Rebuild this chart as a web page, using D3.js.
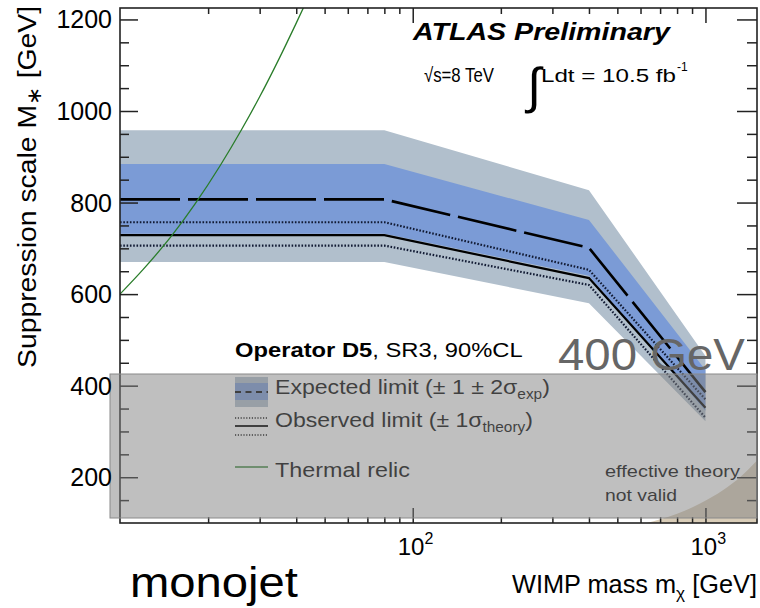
<!DOCTYPE html>
<html><head><meta charset="utf-8">
<script src="https://cdn.jsdelivr.net/npm/d3@7"></script>
<style>body{margin:0;background:#fff}svg{display:block}text{font-family:"Liberation Sans",Arial,Helvetica,sans-serif}</style>
</head><body>
<svg id="c" width="760" height="608"></svg>
<script>
// ---- data ----
const massPts   = [10, 80, 400, 1000];
const expected  = [807, 807, 701, 386];
const exp1Up    = [884, 884, 762, 434];
const exp1Dn    = [732, 732, 640, 345];
const exp2Up    = [958, 958, 827, 465];
const exp2Dn    = [670, 670, 580, 322];
const observed  = [729, 729, 635, 352];
const obsUp     = [757, 757, 653, 370];
const obsDn     = [706, 706, 620, 330];
const relicMass = [10, 12, 15, 18, 22, 26, 30, 35, 40, 45];
const relicM    = [600, 654, 727, 796, 881, 959, 1031, 1115, 1192, 1262];
const effMass   = [631, 700, 800, 962, 1150, 1318, 1503];
const effM      = [100, 108, 120, 143, 172, 201, 237];
const yMajor = [200, 400, 600, 800, 1000, 1200];
const yMinor = d3.range(150, 1225, 50).filter(v => v % 200 !== 0);
const xMajor = [100, 1000];
const xMinor = [20,30,40,50,60,70,80,90,200,300,400,500,600,700,800,900];
const xTickLabels = [{v:100, base:"10", sup:"2"}, {v:1000, base:"10", sup:"3"}];

const svg = d3.select("#c");
const L = 120, R = 757, T = 8, B = 523;
const x = d3.scaleLog().domain([10, 1500]).range([L, R]);
const y = d3.scaleLinear().domain([100, 1225]).range([B, T]);

svg.append("defs").append("clipPath").attr("id","clip")
  .append("rect").attr("x",L).attr("y",T).attr("width",R-L).attr("height",B-T);
const plot = svg.append("g").attr("clip-path","url(#clip)");

// effective theory region
const effData = effMass.map((m,i)=>({m, v:effM[i]}));
plot.append("path").datum(effData)
  .attr("d", d3.area().x(d=>x(d.m)).y0(y(100)).y1(d=>y(d.v)).curve(d3.curveMonotoneX))
  .attr("fill","#d9cdb8");

const pts = a => massPts.map((m,i)=>({m, v:a[i]}));
const band = (lo, hi, col) => plot.append("path")
  .datum(massPts.map((m,i)=>({m, lo:lo[i], hi:hi[i]})))
  .attr("d", d3.area().x(d=>x(d.m)).y0(d=>y(d.lo)).y1(d=>y(d.hi)))
  .attr("fill", col);
band(exp2Dn, exp2Up, "#b1bfcc");
band(exp1Dn, exp1Up, "#7b9bd6");

const line = d3.line().x(d=>x(d.m)).y(d=>y(d.v));
plot.append("path").datum(pts(obsUp)).attr("d",line).attr("fill","none")
  .attr("stroke","#111a33").attr("stroke-width",2.2).attr("stroke-dasharray","1.6,1.7");
plot.append("path").datum(pts(obsDn)).attr("d",line).attr("fill","none")
  .attr("stroke","#111a33").attr("stroke-width",2.2).attr("stroke-dasharray","1.6,1.7");
plot.append("path").datum(pts(observed)).attr("d",line).attr("fill","none")
  .attr("stroke","#000").attr("stroke-width",2.2);
plot.append("path").datum(pts(expected)).attr("d",line).attr("fill","none")
  .attr("stroke","#000").attr("stroke-width",2.6).attr("stroke-dasharray","60,8");

// thermal relic
plot.append("path").datum(relicMass.map((m,i)=>({m, v:relicM[i]})))
  .attr("d", d3.line().x(d=>x(d.m)).y(d=>y(d.v)).curve(d3.curveMonotoneX))
  .attr("fill","none").attr("stroke","#2a7d2a").attr("stroke-width",1.3);

// axes ticks
const axG = svg.append("g").attr("stroke-width",1.5);
function ax(gen, tr){ const g = axG.append("g").attr("transform",tr).call(gen); g.select(".domain").remove(); g.selectAll("line").attr("stroke","#222").attr("stroke-width",1.5); return g; }
ax(d3.axisLeft(y).tickValues(yMajor).tickSize(-18).tickFormat(""), `translate(${L},0)`);
ax(d3.axisLeft(y).tickValues(yMinor).tickSize(-9).tickFormat(""), `translate(${L},0)`);
ax(d3.axisRight(y).tickValues(yMajor).tickSize(-20).tickFormat(""), `translate(${R},0)`);
ax(d3.axisRight(y).tickValues(yMinor).tickSize(-10).tickFormat(""), `translate(${R},0)`);
ax(d3.axisBottom(x).tickValues(xMajor).tickSize(-15).tickFormat(""), `translate(0,${B})`);
ax(d3.axisBottom(x).tickValues(xMinor).tickSize(-6).tickFormat(""), `translate(0,${B})`);
ax(d3.axisTop(x).tickValues(xMajor).tickSize(-15).tickFormat(""), `translate(0,${T})`);
ax(d3.axisTop(x).tickValues(xMinor).tickSize(-6).tickFormat(""), `translate(0,${T})`);
svg.append("rect").attr("x",L).attr("y",T).attr("width",R-L).attr("height",B-T)
  .attr("fill","none").attr("stroke","#222").attr("stroke-width",1.6);

// text helper: fit to target width
function fitText(parent, px, py, rot, size, build, target, opts={}) {
  const g = parent.append("g").attr("transform",`translate(${px},${py}) rotate(${rot})`);
  const t = g.append("text").attr("x",0).attr("y",0).attr("font-size",size)
    .attr("fill", opts.fill || "#000");
  if (opts.weight) t.attr("font-weight", opts.weight);
  if (opts.style) t.attr("font-style", opts.style);
  build(t);
  if (target) { const w = t.node().getComputedTextLength(); t.attr("transform",`scale(${target/w},1)`); }
  return t;
}

// legend (under overlay)
const leg = svg.append("g");
fitText(leg, 235, 357, 0, 21, t => {
  t.append("tspan").attr("font-weight","bold").text("Operator D5");
  t.append("tspan").text(", SR3, 90%CL");
}, 288);
leg.append("rect").attr("x",235).attr("y",377).attr("width",33).attr("height",30).attr("fill","#b1bfcc");
leg.append("rect").attr("x",235).attr("y",383).attr("width",33).attr("height",17).attr("fill","#7b9bd6");
leg.append("line").attr("x1",235).attr("x2",268).attr("y1",392).attr("y2",392)
  .attr("stroke","#000").attr("stroke-width",2).attr("stroke-dasharray","6,4.5");
fitText(leg, 275, 394, 0, 21, t => {
  t.append("tspan").text("Expected limit (± 1 ± 2σ");
  t.append("tspan").attr("font-size",14).attr("dy",5).text("exp");
  t.append("tspan").attr("dy",-5).text(")");
}, 275);
[418, 435].forEach(yy => leg.append("line").attr("x1",235).attr("x2",268).attr("y1",yy).attr("y2",yy)
  .attr("stroke","#000").attr("stroke-width",1.3).attr("stroke-dasharray","1.2,1.6"));
leg.append("line").attr("x1",235).attr("x2",268).attr("y1",426).attr("y2",426)
  .attr("stroke","#000").attr("stroke-width",2);
fitText(leg, 275, 427, 0, 21, t => {
  t.append("tspan").text("Observed limit (± 1σ");
  t.append("tspan").attr("font-size",14).attr("dy",5).text("theory");
  t.append("tspan").attr("dy",-5).text(")");
}, 258);
leg.append("line").attr("x1",235).attr("x2",268).attr("y1",467).attr("y2",467)
  .attr("stroke","#2a7d2a").attr("stroke-width",1.6);
fitText(leg, 275, 477, 0, 21, t => t.text("Thermal relic"), 135);
fitText(leg, 605, 477, 0, 16, t => t.text("effective theory"), 135);
fitText(leg, 605, 501, 0, 16, t => t.text("not valid"), 72);

// translucent grey overlay
svg.append("rect").attr("x",110).attr("y",374).attr("width",R-110).attr("height",144)
  .attr("fill","rgba(128,128,128,0.5)").attr("stroke","#8a8a8a").attr("stroke-width",1);

// tick labels
yMajor.forEach(v => svg.append("text").attr("x",112).attr("y",y(v)+9).attr("text-anchor","end")
  .attr("font-size",25).attr("fill","#000").text(v));
xTickLabels.forEach(d => {
  const t = svg.append("text").attr("x", x(d.v)-15).attr("y",555).attr("font-size",24).attr("fill","#000");
  t.append("tspan").text(d.base);
  t.append("tspan").attr("font-size",16).attr("dy",-11).text(d.sup);
});

// axis titles
fitText(svg, 512, 593, 0, 25, t => {
  t.append("tspan").text("WIMP mass m");
  t.append("tspan").attr("font-size",17).attr("dy",6).text("χ");
  t.append("tspan").attr("dy",-6).text(" [GeV]");
}, 245);
fitText(svg, 36, 368, -90, 26, t => {
  t.append("tspan").text("Suppression scale M");
  t.append("tspan").attr("font-size",20).attr("dy",5).text("∗");
  t.append("tspan").attr("dy",-5).text(" [GeV]");
}, 362);

// ATLAS label
fitText(svg, 413, 40, 0, 24, t => t.text("ATLAS Preliminary"), 257, {weight:"bold", style:"italic"});
fitText(svg, 424, 82, 0, 20, t => t.text("√s=8 TeV"), 70);
svg.append("text").attr("x",534).attr("y",103).attr("text-anchor","middle")
  .attr("font-size",50).attr("font-family","DejaVu Sans").attr("fill","#000").text("∫");
fitText(svg, 541, 82, 0, 18, t => t.text("Ldt = 10.5 fb"), 135);
svg.append("text").attr("x",677).attr("y",71).attr("font-size",12).attr("fill","#000").text("-1");

// big annotations
fitText(svg, 558, 370, 0, 44, t => t.text("400 GeV"), 187, {fill:"#666"});
fitText(svg, 130, 597, 0, 43, t => t.text("monojet"), 168);
</script>
</body></html>
